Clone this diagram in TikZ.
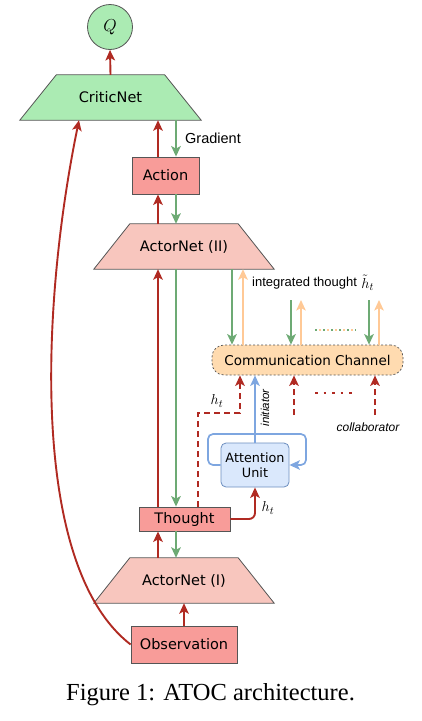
\documentclass[tikz,border=0pt]{standalone}
\usepackage{fontspec}
\newfontfamily\boxfont{DejaVu Sans}
\newfontfamily\lblfont{Liberation Sans}
\newfontfamily\capfont{Liberation Serif}
\usetikzlibrary{arrows.meta}
\definecolor{greenfill}{HTML}{ABEBB3}
\definecolor{redfill}{HTML}{F89C99}
\definecolor{actorfill}{HTML}{F8C6BE}
\definecolor{commfill}{HTML}{FFDBB0}
\definecolor{attfill}{HTML}{DAE8FC}
\definecolor{attline}{HTML}{6C8EBF}
\definecolor{redline}{HTML}{B02A22}
\definecolor{greenline}{HTML}{6DAA74}
\definecolor{orangeline}{HTML}{FFC996}
\definecolor{blueline}{HTML}{7EA6E0}
\definecolor{edge}{HTML}{555555}
\pgfdeclarelayer{bg}
\pgfsetlayers{bg,main}
\tikzset{
  boxtext/.style={font=\boxfont\fontsize{14.5}{17}\selectfont},
  rbox/.style={boxtext, draw=edge, line width=0.8pt, fill=redfill, inner sep=0pt},
  trapnode/.style={boxtext, minimum height=45pt, minimum width=181pt, inner sep=0pt},
  trapline/.style={draw=edge, line width=0.8pt},
  lbl/.style={font=\lblfont\fontsize{13}{15}\selectfont, inner sep=0pt},
  mathlbl/.style={font=\fontsize{15}{17}\selectfont, inner sep=0pt},
  tip/.style={-{Stealth[length=10.5pt,width=9.5pt,inset=2.5pt]}},
  redarr/.style={tip, draw=redline, line width=1.9pt},
  greenarr/.style={tip, draw=greenline, line width=1.9pt},
  orangearr/.style={tip, draw=orangeline, line width=1.9pt},
  bluearr/.style={tip, draw=blueline, line width=1.7pt},
  reddash/.style={redarr, dash pattern=on 6pt off 4pt},
}
\newcommand\trapbg[3]{\begin{pgfonlayer}{bg}\draw[trapline, fill=#2] (#1.south west) -- (#1.south east) -- ([xshift=-#3]#1.north east) -- ([xshift=#3]#1.north west) -- cycle;\end{pgfonlayer}}
\begin{document}
\begin{tikzpicture}[x=1pt,y=-1pt]
\useasboundingbox (0,0) rectangle (422,721);
% column x positions
\coordinate (rx) at (158,0);
\coordinate (gx) at (176,0);
\coordinate (cx) at (79,0);
% nodes
\node[circle, draw=edge, line width=0.8pt, fill=greenfill, minimum size=45pt, inner sep=0pt, font=\fontsize{16}{18}\selectfont] (q) at (110,27) {$Q$};
\node[trapnode] (critic) at (110.5,97.5) {CriticNet};
\trapbg{critic}{greenfill}{36.5pt}
\node[rbox, minimum width=67pt, minimum height=37pt] (act) at (165.5,175.5) {Action};
\node[trapnode, minimum width=180pt, minimum height=45pt] (an2) at (184,246.5) {ActorNet (II)};
\trapbg{an2}{actorfill}{36pt}
\node[rbox, minimum width=91pt, minimum height=24pt] (thought) at (184.5,519) {Thought};
\node[trapnode, minimum width=180pt, minimum height=45pt] (an1) at (184,580.5) {ActorNet (I)};
\trapbg{an1}{actorfill}{36pt}
\node[rbox, minimum width=106pt, minimum height=37pt] (obs) at (184,644.5) {Observation};
\node[boxtext, draw=edge, line width=0.7pt, dash pattern=on 2pt off 2pt, fill=commfill, rounded corners=12pt, minimum width=191pt, minimum height=30pt, inner sep=0pt, font=\boxfont\fontsize{13.5}{16}\selectfont] (comm) at (307.5,360) {Communication Channel};
\node[draw=attline, line width=0.8pt, fill=attfill, rounded corners=5pt, minimum width=68pt, minimum height=44pt, inner sep=0pt, align=center, font=\boxfont\fontsize{12.8}{15.5}\selectfont] (att) at (255,465) {Attention\\Unit};
% main column connectors
\draw[redarr] (critic.north) -- (q.south);
\draw[redarr] (act.north -| rx) -- (critic.south -| rx);
\draw[greenarr] (critic.south -| gx) -- (act.north -| gx);
\node[lbl, anchor=west, font=\lblfont\fontsize{14.5}{17}\selectfont] (grad) at (185,138) {Gradient};
\draw[redarr] (an2.north -| rx) -- (act.south -| rx);
\draw[greenarr] (act.south -| gx) -- (an2.north -| gx);
\draw[redarr] (thought.north -| rx) -- (an2.south -| rx);
\draw[greenarr] (an2.south -| gx) -- (thought.north -| gx);
\draw[redarr] (an1.north -| rx) -- (thought.south -| rx);
\draw[greenarr] (thought.south -| gx) -- (an1.north -| gx);
\draw[redarr] (obs.north) -- (an1.south);
\draw[redarr] (obs.west) .. controls (28,565) and (42,300) .. (critic.south -| cx);
% integrated thought arrows
\coordinate (g1) at (232,0);
\coordinate (o1) at (243,0);
\draw[greenarr] (an2.south -| g1) -- (comm.north -| g1);
\draw[orangearr] (comm.north -| o1) -- (an2.south -| o1);
\node[lbl, anchor=west] (itl) at (252,283) {integrated thought};
\node[mathlbl, anchor=west] (itm) at ([xshift=4pt]itl.east) {$\tilde{h}_t$};
\coordinate (g2) at (291,300);
\coordinate (o2) at (301,300);
\coordinate (g3) at (369,300);
\coordinate (o3) at (379,300);
\draw[greenarr] (g2) -- (comm.north -| g2);
\draw[orangearr] (comm.north -| o2) -- (o2);
\draw[greenarr] (g3) -- (comm.north -| g3);
\draw[orangearr] (comm.north -| o3) -- (o3);
\coordinate (d1) at (315,330);
\coordinate (d2) at (356,330);
\draw[greenline, line width=2pt, dash pattern=on 2pt off 6pt] (d1) -- (d2);
\draw[orangeline, line width=2pt, dash pattern=on 2pt off 6pt, dash phase=4pt] (d1) -- (d2);
% thought to channel (dashed)
\coordinate (hx) at (198,0);
\coordinate (hb) at (240,413);
\draw[reddash] (thought.north -| hx) |- (hb) -- (comm.south -| hb);
\node[mathlbl] (ht1) at (217,401) {$h_t$};
% initiator
\draw[bluearr] (att.north) -- (comm.south -| att.north);
\node[lbl, rotate=90, font=\lblfont\itshape\fontsize{11.5}{13}\selectfont] (init) at (265,408) {initiator};
% collaborators
\coordinate (c1) at (294,415);
\coordinate (c2) at (375,415);
\draw[reddash] (c1) -- (comm.south -| c1);
\draw[reddash] (c2) -- (comm.south -| c2);
\coordinate (e1) at (315,393);
\coordinate (e2) at (355,393);
\draw[redline, line width=1.9pt, dash pattern=on 2.5pt off 6pt] (e1) -- (e2);
\node[lbl, font=\lblfont\itshape\fontsize{12}{14}\selectfont] (collab) at (368,427) {collaborator};
% attention loop
\coordinate (lp1) at (208,434);
\coordinate (lp2) at (306,465);
\draw[bluearr, rounded corners=5pt] (att.west) -| (lp1) -| (lp2) -- (att.east);
% thought to attention
\draw[redarr, rounded corners=6pt] (thought.east) -| (att.south);
\node[mathlbl] (ht2) at (268,508) {$h_t$};
% caption
\node[font=\capfont\fontsize{24.5}{28}\selectfont, anchor=base, inner sep=0pt] (cap) at (210.5,700) {Figure 1: ATOC architecture.};
\end{tikzpicture}
\end{document}
